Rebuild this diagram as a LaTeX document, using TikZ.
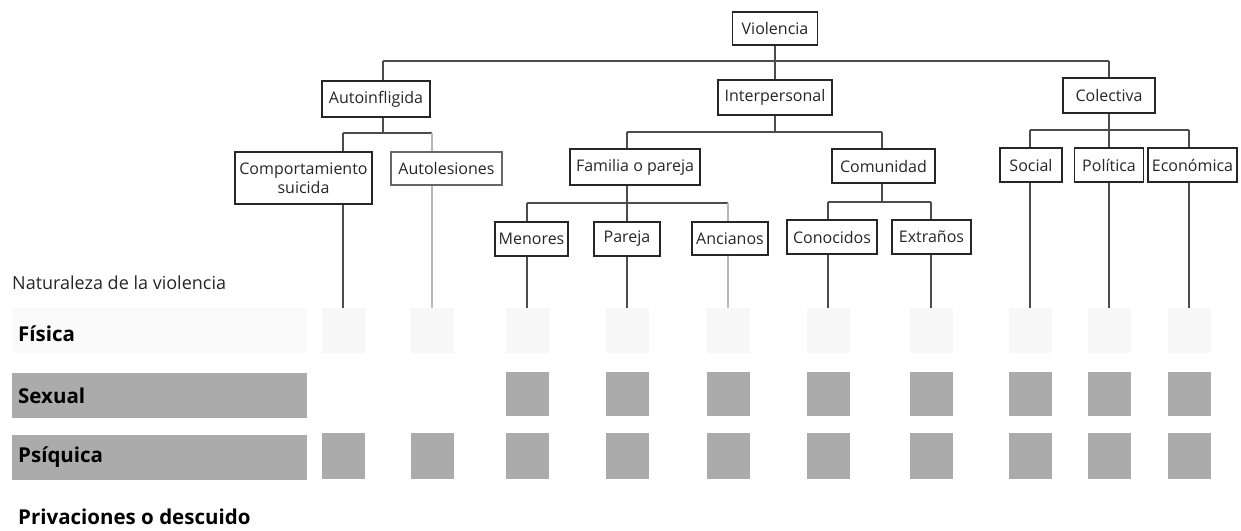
\documentclass[tikz,border=0pt]{standalone}
\usepackage{fontspec}
\setmainfont{Open Sans}
\begin{document}
\begin{tikzpicture}[x=1pt,y=-1pt,
  box/.style={draw=black!85,line width=1.3pt,inner sep=0pt,text=black!85,
    font=\fontsize{16}{18.5}\selectfont,align=center},
  fbox/.style={box,draw=black!60},
  conn/.style={draw=black!70,line width=1.1pt},
  faintline/.style={draw=black!28,line width=1.1pt},
  sq/.style={fill=black!33,draw=none,minimum width=43pt,inner sep=0pt},
  fsq/.style={fill=black!3,draw=none,minimum width=43pt,minimum height=45pt,inner sep=0pt},
  band/.style={fill=black!33,draw=none,minimum width=295pt,inner sep=0pt},
  rowlab/.style={anchor=west,inner sep=0pt,font=\fontsize{20.5}{24}\selectfont\bfseries},
]
\useasboundingbox (0,0) rectangle (1241,530);

% ---- boxes ----
\node[box,minimum width=85pt,minimum height=33pt] (vio) at (775,28.5) {Violencia};
\node[box,minimum width=108pt,minimum height=36pt] (auto) at (376,99) {Autoinfligida};
\node[box,minimum width=114pt,minimum height=35pt] (int) at (775,97.5) {Interpersonal};
\node[box,minimum width=92pt,minimum height=35pt] (col) at (1109,95.5) {Colectiva};
\node[box,minimum width=137pt,minimum height=52pt] (comp) at (303.5,178) {Comportamiento\\suicida};
\node[fbox,minimum width=111pt,minimum height=33pt] (autol) at (446.5,168.5) {Autolesiones};
\node[box,minimum width=130pt,minimum height=36pt] (fam) at (635,167) {Familia o pareja};
\node[box,minimum width=103pt,minimum height=34pt] (comu) at (883.5,166) {Comunidad};
\node[box,minimum width=73pt,minimum height=34pt] (men) at (531.5,239) {Menores};
\node[box,minimum width=66pt,minimum height=34pt] (par) at (627,239) {Pareja};
\node[box,minimum width=76pt,minimum height=33pt] (anc) at (730,238.5) {Ancianos};
\node[box,minimum width=90pt,minimum height=34pt] (cono) at (832,237) {Conocidos};
\node[box,minimum width=79pt,minimum height=34pt] (ext) at (931.5,237) {Extraños};
\node[box,minimum width=62pt,minimum height=34pt] (soc) at (1031,165) {Social};
\node[box,minimum width=69pt,minimum height=34pt] (pol) at (1109,165) {Política};
\node[box,minimum width=89pt,minimum height=34pt] (eco) at (1192.5,165) {Económica};

% ---- left labels and bands ----
\node[anchor=west,inner sep=0pt,font=\fontsize{18}{22}\selectfont,text=black!85] (nat) at (12,283) {Naturaleza de la violencia};
\node[band,fill=black!2,minimum height=45pt] (bf) at (159.5,330.5) {};
\node[band,minimum height=45pt] (bs) at (159.5,395.5) {};
\node[band,minimum height=45pt] (bp) at (159.5,457.5) {};
\node[rowlab] (lf) at (18,334) {Física};
\node[rowlab] (ls) at (18,396) {Sexual};
\node[rowlab] (lp) at (18,457) {Psíquica};
\node[rowlab] (lv) at (18,517) {Privaciones o descuido};

% ---- squares ----
\foreach \i/\x in {1/343,2/432,3/527,4/627,5/728,6/828,7/931,8/1030,9/1109,10/1189}{
  \node[fsq] (f\i) at (\x,330.5) {};
  \node[sq,minimum height=46pt] (p\i) at (\x,456) {};
}
\foreach \i/\x in {3/527,4/627,5/728,6/828,7/931,8/1030,9/1109,10/1189}{
  \node[sq,minimum height=44pt] (s\i) at (\x,394) {};
}

% ---- tree connectors ----
\coordinate (t0L) at (383,61);
\coordinate (t0R) at (1109,61);
\draw[conn] (t0L) -- (t0R);
\draw[conn] (vio.south) -- (int.north);
\draw[conn] (t0L) -- (t0L |- auto.north);
\draw[conn] (t0R) -- (col.north);

% autoinfligida
\coordinate (a1) at (383,133);
\draw[conn] (auto.south -| a1) -- (a1);
\draw[conn] (f1.north |- a1) -- (f2.north |- a1);
\draw[conn] (f1.north |- a1) -- (f1.north |- comp.north);
\draw[faintline] (f2.north |- a1) -- (f2.north |- autol.north);
\draw[conn] (f1.north |- comp.south) -- (f1.north);
\draw[faintline] (f2.north |- autol.south) -- (f2.north);

% interpersonal
\coordinate (i1) at (627,132);
\coordinate (i2) at (882,132);
\draw[conn] (int.south) -- (int.south |- i1);
\draw[conn] (i1) -- (i2);
\draw[conn] (i1) -- (i1 |- fam.north);
\draw[conn] (i2) -- (i2 |- comu.north);

% familia
\coordinate (fb) at (0,203);
\draw[conn] (f4.north |- fam.south) -- (f4.north |- par.north);
\draw[conn] (f3.north |- fb) -- (f5.north |- fb);
\draw[conn] (f3.north |- fb) -- (f3.north |- men.north);
\draw[faintline] (f5.north |- fb) -- (f5.north |- anc.north);
\draw[conn] (f3.north |- men.south) -- (f3.north);
\draw[conn] (f4.north |- par.south) -- (f4.north);
\draw[faintline] (f5.north |- anc.south) -- (f5.north);

% comunidad
\coordinate (cb) at (0,202);
\draw[conn] (i2 |- comu.south) -- (i2 |- cb);
\draw[conn] (f6.north |- cb) -- (f7.north |- cb);
\draw[conn] (f6.north |- cb) -- (f6.north |- cono.north);
\draw[conn] (f7.north |- cb) -- (f7.north |- ext.north);
\draw[conn] (f6.north |- cono.south) -- (f6.north);
\draw[conn] (f7.north |- ext.south) -- (f7.north);

% colectiva
\coordinate (kb) at (0,130);
\draw[conn] (col.south) -- (pol.north);
\draw[conn] (f8.north |- kb) -- (f10.north |- kb);
\draw[conn] (f8.north |- kb) -- (f8.north |- soc.north);
\draw[conn] (f10.north |- kb) -- (f10.north |- eco.north);
\draw[conn] (f8.north |- soc.south) -- (f8.north);
\draw[conn] (f9.north |- pol.south) -- (f9.north);
\draw[conn] (f10.north |- eco.south) -- (f10.north);
\end{tikzpicture}
\end{document}
